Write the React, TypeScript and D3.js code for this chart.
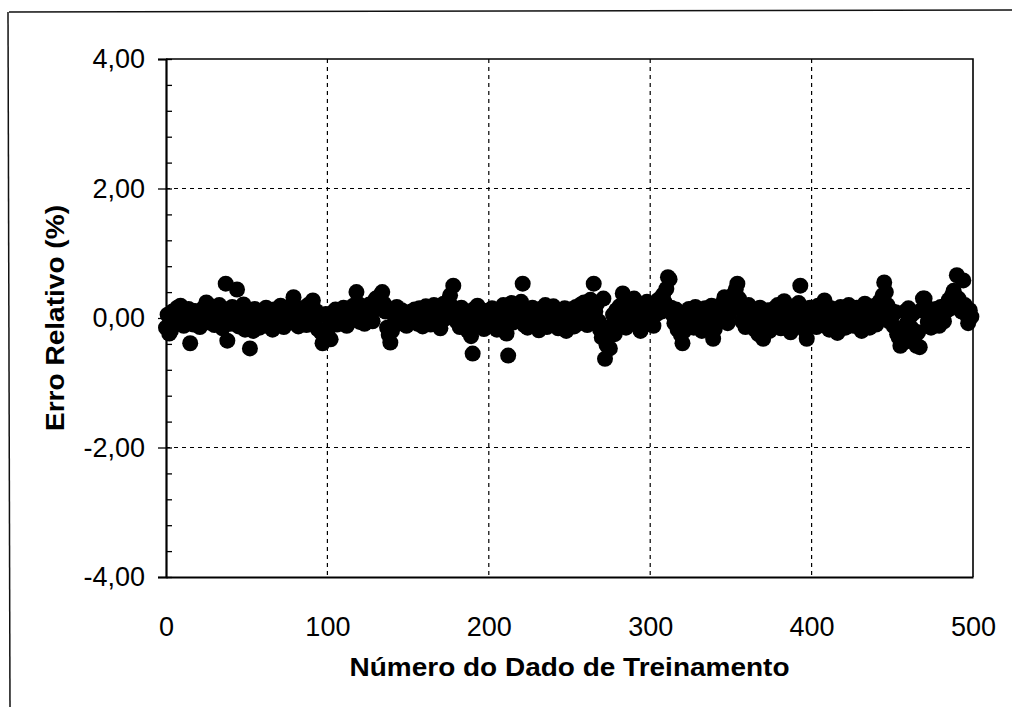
import * as d3 from "d3";
import * as React from "react";

// relative error (%) per training sample in rows of 25
const row00 = [-0.15, 0.05, -0.24, -0.2, 0.1, -0.05, 0.12, 0.16, -0.08, 0.19, 0.02, -0.12, 0.08, -0.03, 0.14, -0.39, 0.06, -0.1, 0.11, -0.02, 0.07, -0.14, 0.03, 0.15, -0.06];
const row01 = [0.24, 0.09, -0.07, 0.18, 0.01, -0.11, 0.13, -0.04, 0.2, 0.06, -0.16, 0.1, 0.53, -0.35, 0.04, -0.09, 0.17, -0.02, 0.12, 0.44, -0.13, 0.08, -0.05, 0.21, -0.18];
const row02 = [0.03, -0.1, -0.47, 0.07, -0.2, 0.14, -0.03, 0.09, -0.15, 0.05, 0.11, -0.07, 0.16, -0.12, 0.02, 0.08, -0.18, 0.13, -0.01, 0.06, -0.09, 0.19, 0.04, -0.14, 0.1];
const row03 = [-0.04, 0.12, 0.18, 0.05, 0.32, -0.08, 0.1, -0.13, 0.03, 0.15, -0.06, 0.09, -0.11, 0.2, 0.01, 0.07, 0.27, -0.05, 0.11, -0.17, 0.04, -0.22, -0.39, -0.26, 0.06];
const row04 = [0.02, -0.15, -0.33, 0.08, -0.04, 0.13, -0.1, 0.05, 0.1, -0.07, 0.16, 0.01, -0.12, 0.07, 0.14, -0.03, 0.19, 0.09, 0.4, 0.22, -0.06, 0.11, 0.04, -0.09, 0.17];
const row05 = [0.08, 0.21, 0.12, -0.05, 0.18, 0.3, 0.14, 0.25, 0.36, 0.4, 0.22, 0.1, -0.15, -0.26, -0.38, -0.2, 0.05, -0.1, 0.17, 0.02, -0.08, 0.12, -0.03, 0.07, -0.12];
const row06 = [0.04, -0.06, 0.1, -0.02, 0.13, 0.06, -0.09, 0.15, 0.01, -0.13, 0.08, 0.18, -0.04, 0.11, -0.1, 0.05, 0.2, -0.07, 0.14, 0.03, -0.16, 0.09, 0.22, -0.01, 0.12];
const row07 = [0.26, 0.35, 0.18, 0.5, 0.07, -0.05, 0.12, -0.14, 0.16, 0.02, -0.09, 0.1, -0.2, 0.05, -0.28, -0.55, 0.14, -0.06, 0.19, 0.03, -0.12, 0.08, -0.17, 0.11, -0.03];
const row08 = [0.06, -0.1, 0.15, -0.04, 0.09, -0.18, 0.12, 0.01, -0.13, 0.2, 0.05, -0.24, -0.58, 0.1, 0.23, -0.07, 0.13, -0.02, 0.17, 0.08, 0.25, 0.53, -0.11, 0.04, -0.15];
const row09 = [0.11, -0.06, 0.16, 0.02, -0.12, 0.09, -0.19, 0.14, 0.04, -0.08, 0.2, -0.14, 0.07, 0.12, -0.03, 0.18, -0.1, 0.05, -0.16, 0.1, 0.01, -0.05, 0.15, -0.2, 0.08];
const row10 = [0.13, -0.02, 0.09, -0.13, 0.17, 0.03, -0.08, 0.21, 0.12, 0.24, 0.06, -0.11, 0.15, 0.28, 0.18, 0.53, 0.1, 0.22, -0.05, -0.18, -0.3, 0.3, -0.63, -0.42, -0.22];
const row11 = [-0.47, -0.12, 0.05, -0.25, 0.12, -0.06, 0.18, 0.02, 0.38, 0.1, -0.15, 0.07, 0.22, -0.04, 0.14, 0.3, 0.08, -0.1, 0.19, -0.2, 0.04, 0.16, -0.07, 0.25, 0.11];
const row12 = [0.2, 0.02, -0.12, 0.15, 0.06, 0.28, 0.18, 0.1, 0.36, 0.24, 0.45, 0.63, 0.6, 0.16, 0.05, -0.08, 0.13, -0.18, 0.02, -0.26, -0.39, -0.2, 0.09, -0.05, 0.14];
const row13 = [-0.1, 0.07, -0.15, 0.17, 0.01, -0.06, 0.11, -0.2, 0.04, 0.15, -0.09, 0.08, -0.13, 0.19, -0.32, -0.17, 0.05, 0.12, -0.04, 0.21, 0.09, 0.32, 0.14, -0.08, 0.06];
const row14 = [0.18, 0.28, 0.38, 0.44, 0.53, 0.3, 0.15, -0.05, 0.1, -0.14, 0.06, 0.2, -0.09, 0.13, 0.02, -0.18, 0.09, -0.25, 0.16, -0.11, -0.32, 0.04, -0.07, 0.12, -0.2];
const row15 = [0.08, -0.03, 0.15, -0.12, 0.2, 0.05, -0.16, 0.11, 0.26, 0.01, -0.08, 0.14, -0.22, 0.07, 0.18, -0.05, 0.1, 0.23, 0.5, 0.12, -0.1, -0.2, -0.32, 0.03, 0.16];
const row16 = [-0.06, 0.09, 0.02, -0.14, 0.19, 0.06, -0.1, 0.13, 0.27, -0.02, 0.08, -0.18, 0.15, 0.04, -0.09, 0.11, -0.23, 0.07, 0.17, -0.04, 0.12, -0.15, 0.05, 0.2, -0.08];
const row17 = [0.1, -0.12, 0.03, 0.16, -0.06, 0.13, -0.2, 0.08, 0.22, -0.03, 0.11, -0.15, 0.06, 0.18, 0.01, -0.1, 0.14, 0.25, 0.07, 0.35, 0.55, 0.4, 0.2, -0.05, 0.12];
const row18 = [0.04, -0.13, 0.09, -0.25, -0.3, -0.43, -0.2, -0.38, 0.1, -0.08, 0.15, 0.02, -0.16, 0.07, -0.28, -0.43, -0.22, -0.45, 0.12, 0.3, 0.3, 0.18, -0.06, 0.1, -0.15];
const row19 = [0.06, -0.1, 0.14, 0.01, -0.12, 0.17, 0.08, -0.05, 0.2, 0.12, 0.28, 0.15, 0.35, 0.42, 0.22, 0.66, 0.3, 0.18, 0.1, 0.58, 0.2, 0.05, -0.08, 0.12, 0.02];

const erro = [
  row00, row01, row02, row03, row04, row05, row06, row07, row08, row09,
  row10, row11, row12, row13, row14, row15, row16, row17, row18, row19,
].flat();

const xTicks = [0, 100, 200, 300, 400, 500];
const yTicks = [-4, -2, 0, 2, 4];
const yMinorTicks = d3.range(-4, 4.01, 0.4);
const xGrid = [100, 200, 300, 400];
const yGrid = [-2, 2];

const fmt = (v: number) => v.toFixed(2).replace(".", ",");

export default function App() {
  const width = 1012;
  const height = 707;
  const marginLeft = 166;
  const marginTop = 59;
  const plotRight = 973;
  const plotBottom = 577;

  const innerWidth = plotRight - marginLeft;
  const innerHeight = plotBottom - marginTop;

  const svgRef = React.useRef<SVGSVGElement>(null);

  const x = d3.scaleLinear([0, 500], [0, innerWidth]);
  const y = d3.scaleLinear([-4, 4], [innerHeight, 0]);

  React.useEffect(() => {
    const svgElement = svgRef.current;
    if (svgElement == null) return;
    const svg = d3.select(svgElement);
    svg.selectAll("*").remove();

    // scanned page frame
    svg.append("line").attr("x1", 9).attr("x2", width).attr("y1", 12).attr("y2", 10)
      .attr("stroke", "#111").attr("stroke-width", 1.5);
    svg.append("line").attr("x1", 8).attr("x2", 10).attr("y1", 12).attr("y2", height)
      .attr("stroke", "#111").attr("stroke-width", 1.5);

    const g = svg.append("g").attr("transform", `translate(${marginLeft},${marginTop})`);

    // dashed grid
    g.append("g")
      .selectAll("line")
      .data(xGrid)
      .join("line")
      .attr("x1", (d) => x(d)).attr("x2", (d) => x(d))
      .attr("y1", 0).attr("y2", innerHeight)
      .attr("stroke", "#000").attr("stroke-width", 1.2).attr("stroke-dasharray", "4,4");
    g.append("g")
      .selectAll("line")
      .data(yGrid)
      .join("line")
      .attr("x1", 0).attr("x2", innerWidth)
      .attr("y1", (d) => y(d)).attr("y2", (d) => y(d))
      .attr("stroke", "#000").attr("stroke-width", 1.2).attr("stroke-dasharray", "4,4");

    // plot frame (top and right)
    g.append("path")
      .attr("d", `M0,0H${innerWidth}V${innerHeight}`)
      .attr("fill", "none").attr("stroke", "#000").attr("stroke-width", 1.6);

    // points
    g.append("g")
      .selectAll("circle")
      .data(erro)
      .join("circle")
      .attr("cx", (_, i) => x(i))
      .attr("cy", (d) => y(d))
      .attr("r", 8)
      .attr("fill", "#000");

    // y axis: major ticks out, minor ticks in
    g.append("g")
      .call(d3.axisLeft(y).tickValues(yMinorTicks).tickSize(-6).tickFormat(() => ""))
      .call((s) => s.select(".domain").remove())
      .call((s) => s.selectAll(".tick line").attr("stroke-width", 1.3));
    g.append("g")
      .call(d3.axisLeft(y).tickValues(yTicks).tickSize(8).tickPadding(13).tickFormat((d) => fmt(d as number)))
      .call((s) => s.select(".domain").attr("stroke-width", 2.2))
      .call((s) => s.selectAll(".tick line").attr("stroke-width", 1.3))
      .call((s) =>
        s.selectAll("text")
          .attr("font-family", "Liberation Sans, Arial, sans-serif")
          .attr("font-size", 27)
          .attr("fill", "#000")
      );

    // x axis
    g.append("g")
      .attr("transform", `translate(0,${innerHeight})`)
      .call(d3.axisBottom(x).tickValues(xTicks).tickSize(0).tickPadding(40).tickFormat((d) => String(d)))
      .call((s) => s.select(".domain").attr("stroke-width", 2.2))
      .call((s) =>
        s.selectAll("text")
          .attr("font-family", "Liberation Sans, Arial, sans-serif")
          .attr("font-size", 27)
          .attr("fill", "#000")
      );

    // axis titles
    svg.append("text")
      .attr("x", (marginLeft + plotRight) / 2)
      .attr("y", 676)
      .attr("text-anchor", "middle")
      .attr("font-family", "Liberation Sans, Arial, sans-serif")
      .attr("font-weight", "bold")
      .attr("font-size", 26)
      .attr("textLength", 440)
      .attr("lengthAdjust", "spacingAndGlyphs")
      .text("Número do Dado de Treinamento");

    svg.append("text")
      .attr("transform", `translate(64,${(marginTop + plotBottom) / 2}) rotate(-90)`)
      .attr("text-anchor", "middle")
      .attr("font-family", "Liberation Sans, Arial, sans-serif")
      .attr("font-weight", "bold")
      .attr("font-size", 26)
      .attr("textLength", 226)
      .attr("lengthAdjust", "spacingAndGlyphs")
      .text("Erro Relativo (%)");
  }, [x, y, innerWidth, innerHeight]);

  return (
    <svg
      ref={svgRef}
      width={width}
      height={height}
      viewBox={`0 0 ${width} ${height}`}
      style={{ position: "absolute", left: 0, top: 0, background: "#fff" }}
    ></svg>
  );
}
